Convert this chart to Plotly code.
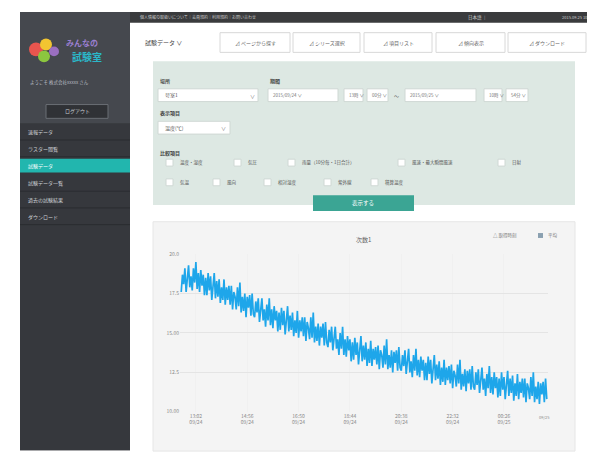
import plotly.graph_objects as go

W, H = 595, 454
FONT = "Noto Sans CJK JP"

# ---------------- data ----------------
series_name = "平均"
values_a = [17.6, 18.7, 18.1, 19.1, 17.6, 18.7, 19.3, 17.9, 18.6, 17.7, 19.1, 18.2, 19.5, 17.8, 18.8, 17.6, 19.0, 18.0, 18.7, 17.4,
            18.5, 17.4, 18.8, 17.7, 18.6, 17.1, 18.1, 18.8, 17.2, 18.3, 17.3, 18.4, 16.9, 17.9, 17.1, 18.4, 16.8, 17.9, 17.1, 18.0,
            16.8, 18.0, 16.5, 17.6, 17.3, 16.5, 17.9, 16.7, 18.2, 16.3, 17.3, 16.4, 17.5, 16.0, 17.3, 16.6, 17.4, 16.1, 17.5, 16.2]
values_b = [16.0, 17.0, 16.3, 17.2, 15.7, 16.7, 17.2, 15.8, 16.5, 15.4, 16.8, 15.8, 17.2, 15.5, 16.5, 15.3, 16.7, 15.8, 16.4, 15.1,
            16.3, 15.2, 16.6, 15.5, 16.4, 14.9, 15.9, 16.7, 15.1, 16.1, 15.2, 16.3, 14.8, 15.8, 15.0, 16.4, 14.7, 15.8, 15.1, 16.0,
            14.8, 16.0, 14.5, 15.7, 15.3, 14.6, 16.0, 14.7, 16.3, 14.4, 15.4, 14.5, 15.6, 14.2, 15.4, 14.7, 15.6, 14.2, 15.7, 14.4]
values_c = [14.1, 15.2, 14.4, 15.4, 13.9, 14.8, 15.4, 14.0, 14.6, 13.6, 15.0, 14.0, 15.4, 13.6, 14.6, 13.5, 14.8, 13.9, 14.6, 13.2,
            14.4, 13.3, 14.7, 13.6, 14.4, 13.0, 14.0, 14.8, 13.2, 14.2, 13.3, 14.4, 12.9, 14.0, 13.1, 14.5, 12.9, 14.0, 13.3, 14.1,
            13.0, 14.2, 12.7, 13.9, 13.6, 12.8, 14.2, 13.0, 14.6, 12.7, 13.6, 12.8, 13.9, 12.5, 13.8, 13.1, 13.9, 12.6, 14.1, 12.8]
values_d = [12.6, 13.6, 12.9, 13.9, 12.4, 13.4, 14.0, 12.5, 13.2, 12.2, 13.6, 12.6, 14.0, 12.3, 13.3, 12.2, 13.5, 12.6, 13.3, 12.0,
            13.1, 12.0, 13.5, 12.4, 13.3, 11.8, 12.8, 13.6, 12.0, 13.0, 12.1, 13.2, 11.7, 12.8, 11.9, 13.3, 11.7, 12.8, 12.0, 12.9,
            11.8, 13.0, 11.5, 12.6, 12.3, 11.6, 13.0, 11.8, 13.3, 11.4, 12.4, 11.6, 12.7, 11.3, 12.6, 11.8, 12.7, 11.4, 12.9, 11.6]
values_e = [11.4, 12.5, 11.7, 12.7, 11.2, 12.2, 12.8, 11.4, 12.1, 11.0, 12.4, 11.5, 12.9, 11.2, 12.2, 11.1, 12.5, 11.5, 12.2, 10.9,
            12.1, 11.0, 12.5, 11.4, 12.2, 10.8, 11.8, 12.6, 11.0, 12.1, 11.2, 12.3, 10.7, 11.8, 11.0, 12.4, 10.8, 11.9, 11.2, 12.1,
            10.9, 12.1, 10.6, 11.8, 11.5, 10.8, 12.2, 11.0, 12.5, 10.6, 11.6, 10.8, 11.9, 10.5, 11.8, 11.1, 11.9, 10.6, 12.1, 10.8]
values = values_a + values_b + values_c + values_d + values_e
sample_index = list(range(len(values)))

x_tick_positions = [12, 54, 96, 138, 180, 222, 264]
x_tick_labels = ["13:02<br>09/24", "14:56<br>09/24", "16:50<br>09/24", "18:44<br>09/24",
                 "20:38<br>09/24", "22:32<br>09/24", "00:26<br>09/25"]
y_tick_positions = [10, 12.5, 15, 17.5, 20]
y_tick_labels = ["10.00", "12.5", "15.00", "17.5", "20.0"]

chart_title = "次数1"
menu_items = ["速報データ", "ラスター閲覧", "試験データ", "試験データ一覧", "過去の試験結果", "ダウンロード"]
tab_labels = ["ページから探す", "シリーズ選択", "項目リスト", "傾向表示", "ダウンロード"]

# ---------------- helpers ----------------
def px(x):
    return x / W

def py(y):
    return 1 - y / H

shapes = []
annotations = []

def rect(x0, y0, x1, y1, fill, line=None, lw=1, layer="below"):
    shapes.append(dict(type="rect", xref="paper", yref="paper",
                       x0=px(x0), x1=px(x1), y0=py(y1), y1=py(y0),
                       fillcolor=fill, line=dict(color=line or fill, width=lw if line else 0),
                       layer=layer))

def circle(cx, cy, r, fill):
    shapes.append(dict(type="circle", xref="paper", yref="paper",
                       x0=px(cx - r), x1=px(cx + r), y0=py(cy + r), y1=py(cy - r),
                       fillcolor=fill, line=dict(width=0), layer="below"))

def text(x, y, s, size=6, color="#555", anchor="left", bold=False):
    if bold:
        s = "<b>" + s + "</b>"
    annotations.append(dict(x=px(x), y=py(y), xref="paper", yref="paper", text=s,
                            showarrow=False, xanchor=anchor, yanchor="middle",
                            font=dict(size=size, color=color, family=FONT)))

# ---------------- page chrome ----------------
# sidebar
rect(12, 0, 122, 445, "#45484e")
rect(12, 113, 122, 445, "#36383d")
# logo
circle(28, 38, 7, "#e8554e")
circle(38, 33, 6, "#f2c531")
circle(36, 45, 6, "#8cc63f")
circle(46, 40, 5, "#9a6fc0")
text(56, 31, "みんなの", 8, "#9b7fd0", bold=True)
text(62, 45, "試験室", 10, "#2bb7c9", bold=True)
text(20, 72, "ようこそ 株式会社xxxxx さん", 4.5, "#b8bcc2")
rect(38, 94, 100, 108, "#303236", "#6a6e74")
text(69, 101, "ログアウト", 5, "#c8ccd2", anchor="center")
menu_y = [122, 139, 156, 174, 191, 208]
for i, (lbl, my) in enumerate(zip(menu_items, menu_y)):
    if i == 2:
        rect(12, my - 7, 122, my + 7, "#22b6ae")
        text(18, my, lbl, 5, "#ffffff")
    else:
        text(18, my, lbl, 5, "#cfd2d6")
        shapes.append(dict(type="line", xref="paper", yref="paper", x0=px(12), x1=px(122),
                           y0=py(my + 8), y1=py(my + 8), line=dict(color="#2a2c30", width=1), layer="below"))

# top bar
rect(122, 0, 590, 11, "#3a3b3d")
text(130, 5.5, "個人情報の取扱いについて｜会員規約｜利用規約｜お問い合わせ", 4, "#c8c8c8")
text(458, 5.5, "日本語 ｜", 4.5, "#d0d0d0")
text(588, 5.5, "2015.09.25 10:54", 4, "#d0d0d0", anchor="right")

# right border of content
rect(580, 11, 590, 454, "#eeeeee")

# tabs
text(135, 31, "試験データ ∨", 6, "#444")
tab_x = [(212, 282), (285, 352), (356, 424), (428, 497), (500, 578)]
for (x0, x1), lbl in zip(tab_x, tab_labels):
    rect(x0, 21, x1, 41, "#ffffff", "#d8d8d8")
    text((x0 + x1) / 2, 31, "⊿ " + lbl, 5, "#666", anchor="center")

# filter panel
rect(145, 50, 567, 196, "#dde8e3")
text(150, 70, "場所", 5, "#444", bold=True)
rect(150, 78, 250, 91, "#ffffff", "#cfd8d4")
text(155, 84.5, "号室1", 5, "#555")
text(244, 84.5, "∨", 5, "#777", anchor="center")
text(260, 70, "期間", 5, "#444", bold=True)
for (x0, x1, lbl) in [(260, 330, "2015/09/24"), (336, 355, "13時"), (359, 380, "00分"),
                      (397, 468, "2015/09/25"), (476, 494, "10時"), (498, 520, "54分")]:
    rect(x0, 78, x1, 91, "#ffffff", "#cfd8d4")
    text(x0 + 3, 84.5, lbl + " ∨", 4.5, "#777")
text(388, 84.5, "〜", 5, "#555", anchor="center")
text(150, 103, "表示項目", 5, "#444", bold=True)
rect(150, 111, 222, 124, "#ffffff", "#cfd8d4")
text(155, 117.5, "温度(℃)", 5, "#555")
text(215, 117.5, "∨", 5, "#777", anchor="center")
text(150, 143, "比較項目", 5, "#444", bold=True)
row1 = [(158, "温度・湿度"), (226, "気圧"), (280, "雨量（10分毎・1日合計）"), (390, "風速・最大瞬間風速"), (490, "日射")]
row2 = [(158, "気温"), (205, "風向"), (256, "相対湿度"), (316, "紫外線"), (363, "積算温度")]
for yy, row in [(153, row1), (173, row2)]:
    for xx, lbl in row:
        rect(xx, yy - 3.5, xx + 7, yy + 3.5, "#ffffff", "#cfd8d4")
        text(xx + 12, yy, lbl, 4.5, "#555")
rect(305, 186, 406, 202, "#3ba594", layer="above")
text(355, 194, "表示する", 5.5, "#ffffff", anchor="center")

# chart panel
rect(145, 213, 567, 446, "#f4f4f4", "#e6e6e6")
text(355, 231, chart_title, 6, "#666", anchor="center")
text(483, 227, "△ 取得時刻", 4.5, "#777")
rect(530, 224.5, 535, 229.5, "#8aa0b0")
text(538, 227, series_name, 4.5, "#777")
text(536, 411, "09/25", 4, "#888", anchor="center")

# ---------------- chart ----------------
fig = go.Figure()
fig.add_trace(go.Scatter(x=sample_index, y=values, mode="lines", name=series_name,
                         line=dict(color="#1ea6ea", width=1.7), showlegend=False))

fig.update_layout(
    width=W, height=H, margin=dict(l=0, r=0, t=0, b=0),
    paper_bgcolor="#ffffff", plot_bgcolor="#ffffff",
    font=dict(family=FONT, size=6, color="#888"),
    shapes=shapes, annotations=annotations,
    xaxis=dict(domain=[px(172), px(540)], range=[-1, len(values)],
               tickvals=x_tick_positions, ticktext=x_tick_labels,
               showgrid=True, gridcolor="#f0f0f0", zeroline=False,
               tickfont=dict(size=5, color="#888"), ticks="", showline=False),
    yaxis=dict(domain=[py(406), py(246)], range=[10, 20],
               tickvals=y_tick_positions, ticktext=y_tick_labels,
               showgrid=True, gridcolor="#e4e4e4", zeroline=False,
               tickfont=dict(size=5, color="#888"), ticks="", showline=False),
)

fig.write_html("out.html")
